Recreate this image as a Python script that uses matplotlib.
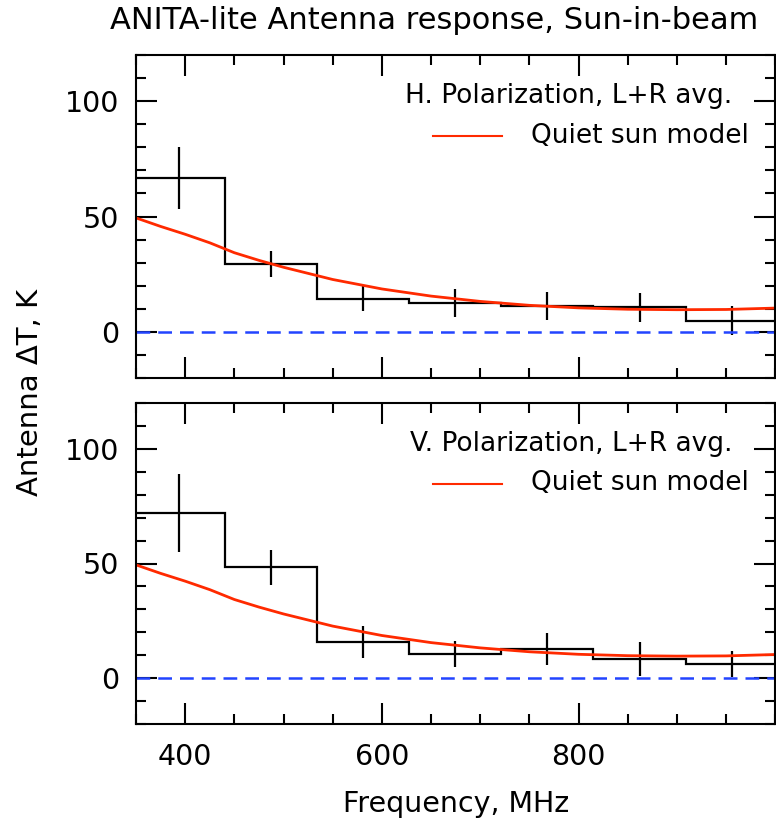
import numpy as np
import matplotlib
matplotlib.use("Agg")
import matplotlib.pyplot as plt
from matplotlib.ticker import MultipleLocator, FixedLocator

# bin centres (MHz), measured values and errors for each polarization
bin_centers = [394, 487.6, 581.2, 674.8, 768.4, 862, 955.6]
bin_width = 93.6
h_pol = [66.8, 29.3, 14.4, 12.6, 11.3, 10.6, 4.8]
h_err = [13.5, 5.6, 5.5, 6.0, 6.0, 6.2, 6.2]
v_pol = [72.2, 48.4, 15.7, 10.6, 12.9, 8.3, 6.3]
v_err = [17.0, 7.7, 7.0, 5.8, 7.0, 7.4, 5.6]

# quiet sun model curve
model_freq = [350, 375, 400, 425, 450, 475, 500, 550, 600, 650, 700, 750, 800, 850, 900, 950, 1000]
model_temp = [49.4, 45.7, 42.3, 38.6, 34.3, 31.0, 28.0, 22.7, 18.6, 15.5, 13.2, 11.5, 10.4, 9.8, 9.6, 9.7, 10.3]

x_ticks = [400, 600, 800]
panel_labels = ["H. Polarization, L+R avg.", "V. Polarization, L+R avg."]

plt.rcParams['font.family'] = 'DejaVu Sans'
plt.rcParams['axes.linewidth'] = 1.5

fig = plt.figure(figsize=(7.76, 8.19), dpi=100)
ax_top = fig.add_axes([136 / 776, 1 - 378 / 819, 640 / 776 - 0.001, 323 / 819])
ax_bot = fig.add_axes([136 / 776, 1 - 724 / 819, 640 / 776 - 0.001, 321 / 819])

red = '#ff2a00'
for ax, vals, errs, label in [(ax_top, h_pol, h_err, panel_labels[0]),
                              (ax_bot, v_pol, v_err, panel_labels[1])]:
    centers = np.array(bin_centers)
    edges = np.append(centers - bin_width / 2, centers[-1] + bin_width / 2)
    ax.stairs(vals, edges, color='black', lw=1.6)
    ax.errorbar(centers, vals, yerr=errs, fmt='none', ecolor='black', elinewidth=1.6, capsize=0)
    ax.plot(model_freq, model_temp, color=red, lw=2)
    ax.axhline(0, color='#2244ff', lw=1.8, dashes=(5.5, 3.2))

    ax.set_xlim(350, 1000)
    ax.set_ylim(-20, 120)
    ax.xaxis.set_major_locator(FixedLocator(x_ticks))
    ax.xaxis.set_minor_locator(MultipleLocator(50))
    ax.yaxis.set_major_locator(MultipleLocator(50))
    ax.yaxis.set_minor_locator(MultipleLocator(10))
    ax.tick_params(which='both', direction='in', top=True, right=True, width=1.5)
    ax.tick_params(which='major', length=15, labelsize=20.5)
    ax.tick_params(axis='x', which='major', pad=14)
    ax.tick_params(axis='y', which='major', pad=12)
    ax.tick_params(which='minor', length=7.5)

    ax.text(0.933, 0.851, label, transform=ax.transAxes, ha='right', va='baseline', fontsize=19)
    ax.text(0.959, 0.728, 'Quiet sun model', transform=ax.transAxes, ha='right', va='baseline', fontsize=19)
    ax.plot([0.464, 0.573], [0.749, 0.749], transform=ax.transAxes, color=red, lw=1.5)

ax_top.tick_params(labelbottom=False)
fig.text(456 / 776, 1 - 812 / 819, 'Frequency, MHz', ha='center', va='baseline', fontsize=20.5)
fig.text(30 / 776, 1 - 392 / 819, 'Antenna ΔT, K', rotation=90, ha='center', va='center', fontsize=21)
fig.text(434 / 776, 1 - 29 / 819, 'ANITA-lite Antenna response, Sun-in-beam', ha='center', va='baseline', fontsize=22)

fig.savefig('out.png', dpi=100)
